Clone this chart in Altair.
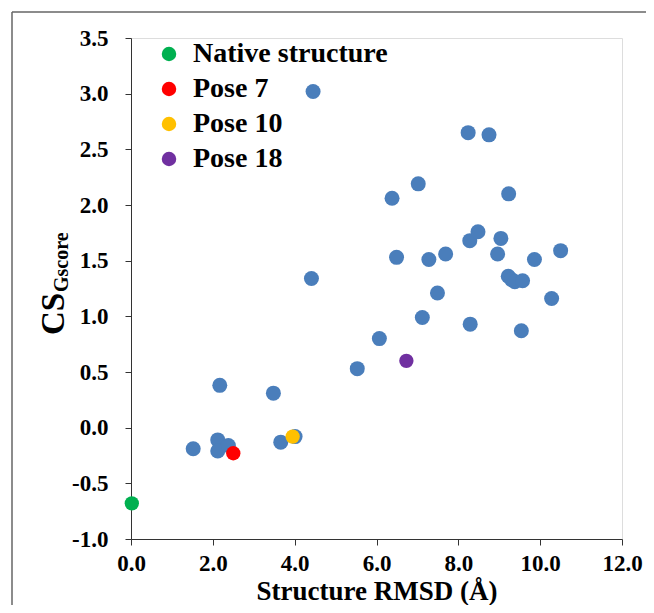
import altair as alt
import pandas as pd

# ---- data ----
other_x = [1.52, 2.12, 2.12, 2.38, 2.17, 3.48, 3.66, 4.01, 4.45, 4.41,
           5.53, 6.07, 6.38, 6.49, 7.02, 7.12, 7.28, 7.49, 7.69, 8.24,
           8.75, 8.28, 8.48, 8.29, 8.96, 9.04, 9.23, 9.22, 9.30, 9.38,
           9.57, 9.54, 9.86, 10.28, 10.50]
other_y = [-0.19, -0.11, -0.21, -0.16, 0.38, 0.31, -0.13, -0.08, 3.02, 1.34,
           0.53, 0.80, 2.06, 1.53, 2.19, 0.99, 1.51, 1.21, 1.56, 2.65,
           2.63, 1.68, 1.76, 0.93, 1.56, 1.70, 2.10, 1.36, 1.33, 1.31,
           1.32, 0.87, 1.51, 1.16, 1.59]

special_labels = ["Native structure", "Pose 7", "Pose 10", "Pose 18"]
special_x = [0.02, 2.50, 3.95, 6.73]
special_y = [-0.68, -0.23, -0.08, 0.60]
special_colors = ["#00b050", "#ff0000", "#ffc000", "#7030a0"]

x_ticks = [0.0, 2.0, 4.0, 6.0, 8.0, 10.0, 12.0]
y_ticks = [-1.0, -0.5, 0.0, 0.5, 1.0, 1.5, 2.0, 2.5, 3.0, 3.5]

x_title = "Structure RMSD (Å)"
y_title_main = "CS"
y_title_sub = "Gscore"

FONT = "Liberation Serif"
BLUE = "#4a7ebb"
AXIS_COLOR = "#333333"
FRAME_COLOR = "#666666"

df_other = pd.DataFrame({"rmsd": other_x, "score": other_y})
df_special = pd.DataFrame({"rmsd": special_x, "score": special_y, "label": special_labels})

label_expr = "(datum.value < 0 ? '-' : '') + format(abs(datum.value), '.1f')"

x_enc = alt.X(
    "rmsd:Q",
    scale=alt.Scale(domain=[0, 12], nice=False, zero=False),
    axis=alt.Axis(
        values=x_ticks, labelExpr=label_expr, grid=False,
        title=x_title, titleFont=FONT, titleFontSize=27, titleFontWeight="bold",
        titleColor="#000000", titlePadding=3,
        labelFont=FONT, labelFontSize=23, labelFontWeight="bold", labelColor="#000000",
        labelPadding=7, tickSize=6, tickColor=AXIS_COLOR, domainColor=AXIS_COLOR,
        labelFlush=False,
    ),
)
y_enc = alt.Y(
    "score:Q",
    scale=alt.Scale(domain=[-1.0, 3.5], nice=False, zero=False),
    axis=alt.Axis(
        values=y_ticks, labelExpr=label_expr, grid=False, title="",
        labelFont=FONT, labelFontSize=23, labelFontWeight="bold", labelColor="#000000",
        labelPadding=17, tickSize=6, tickColor=AXIS_COLOR, domainColor=AXIS_COLOR,
        labelFlush=False,
    ),
)

one = pd.DataFrame({"k": [0]})
frame_top = alt.Chart(one).mark_rule(stroke=FRAME_COLOR, strokeWidth=1.5).encode(
    x=alt.value(-119), x2=alt.value(2000), y=alt.value(-26)
)
frame_left = alt.Chart(one).mark_rule(stroke=FRAME_COLOR, strokeWidth=1.5).encode(
    x=alt.value(-119), y=alt.value(-26), y2=alt.value(2000)
)

blue = alt.Chart(df_other).mark_circle(size=225, opacity=1, color=BLUE).encode(
    x=x_enc, y=y_enc
)

special = alt.Chart(df_special).mark_circle(size=205, opacity=1).encode(
    x=x_enc,
    y=y_enc,
    color=alt.Color(
        "label:N",
        scale=alt.Scale(domain=special_labels, range=special_colors),
        sort=special_labels,
        legend=alt.Legend(
            title=None, orient="none", legendX=24, legendY=2, padding=0,
            labelFont=FONT, labelFontSize=28, labelFontWeight="bold", labelColor="#000000",
            symbolSize=210, symbolType="circle", symbolStrokeWidth=0, symbolOpacity=1,
            labelOffset=10, rowPadding=7, labelLimit=400,
        ),
    ),
)

t_main = alt.Chart(pd.DataFrame({"t": [y_title_main]})).mark_text(
    angle=270, align="left", baseline="alphabetic", font=FONT, fontSize=33,
    fontWeight="bold", color="#000000"
).encode(text="t:N", x=alt.value(-67), y=alt.value(297))

t_sub = alt.Chart(pd.DataFrame({"t": [y_title_sub]})).mark_text(
    angle=270, align="left", baseline="alphabetic", font=FONT, fontSize=20,
    fontWeight="bold", color="#000000"
).encode(text="t:N", x=alt.value(-63), y=alt.value(254))

chart = alt.layer(frame_top, frame_left, blue, special, t_main, t_sub).properties(
    width=491, height=501,
    autosize=alt.AutoSizeParams(type="none"),
    padding={"left": 123, "top": 30, "right": 24, "bottom": 66},
).configure_view(stroke=None).configure(background="#ffffff")

chart.save("out.html", embed_options={"renderer": "svg", "actions": False})
